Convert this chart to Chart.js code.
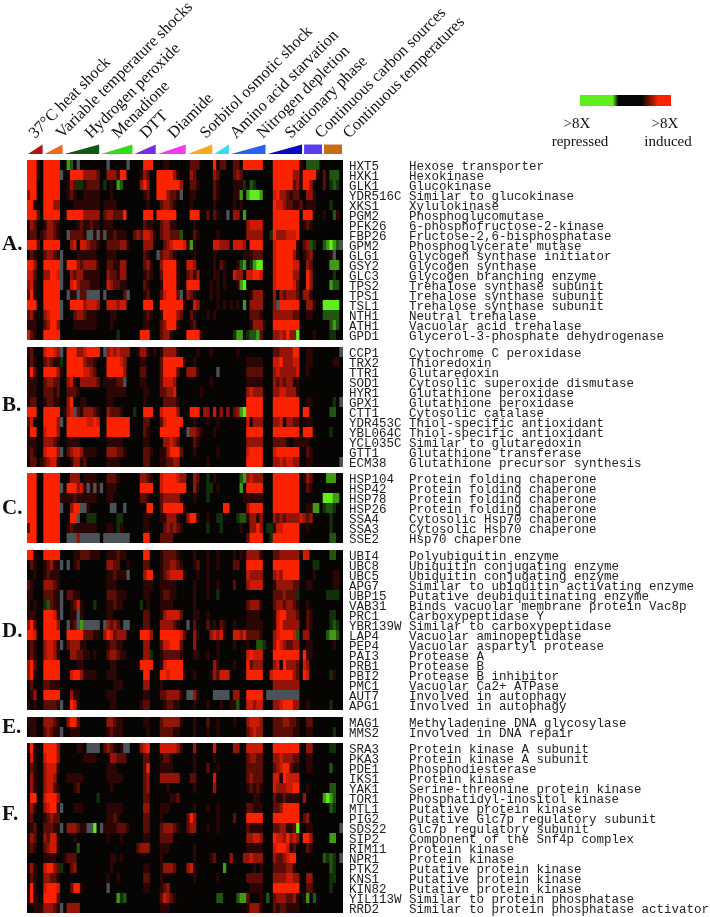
<!DOCTYPE html>
<html>
<head>
<meta charset="utf-8">
<title>Stress response heatmap</title>
<script src="https://cdn.jsdelivr.net/npm/chart.js@4"></script>
<style>
  body { margin: 0; background: #fff; }
  canvas { display: block; filter: blur(0.4px); }
</style>
</head>
<body>
<canvas id="heatmap" width="710" height="917"></canvas>
<script>
// conditions, left to right, with how many array columns each covers
const conditions = ["37°C heat shock", "Variable temperature shocks", "Hydrogen peroxide", "Menadione", "DTT", "Diamide",
    "Sorbitol osmotic shock", "Amino acid starvation", "Nitrogen depletion", "Stationary phase", "Continuous carbon sources", "Continuous temperatures"];
const conditionCols = [5, 6, 11, 10, 7, 9, 8, 5, 11, 11, 6, 6];
const conditionColors = ["#b01018", "#ee6a1e", "#0f5a12", "#33dd18", "#7a2ae0", "#f23cf0", "#f9a81a", "#35dcf2", "#2a62f0", "#0808c8", "#5a3cf0", "#c86c10"];
const conditionIsRamp = [true, true, true, true, true, true, true, true, true, true, false, false];

const genesA = ["HXT5", "HXK1", "GLK1", "YDR516C", "XKS1", "PGM2", "PFK26", "FBP26", "GPM2", "GLG1", "GSY2", "GLC3", "TPS2", "TPS1", "TSL1", "NTH1", "ATH1", "GPD1"];
const rolesA = ["Hexose transporter", "Hexokinase", "Glucokinase", "Similar to glucokinase", "Xylulokinase", "Phosphoglucomutase", "6-phosphofructose-2-kinase", "Fructose-2,6-bisphosphatase", "Phosphoglycerate mutase", "Glycogen synthase initiator", "Glycogen synthase", "Glycogen branching enzyme", "Trehalose synthase subunit", "Trehalose synthase subunit", "Trehalose synthase subunit", "Neutral trehalase", "Vacuolar acid trehalase", "Glycerol-3-phosphate dehydrogenase"];
const genesB = ["CCP1", "TRX2", "TTR1", "SOD1", "HYR1", "GPX1", "CTT1", "YDR453C", "YBL064C", "YCL035C", "GTT1", "ECM38"];
const rolesB = ["Cytochrome C peroxidase", "Thioredoxin", "Glutaredoxin", "Cytosolic superoxide dismutase", "Glutathione peroxidase", "Glutathione peroxidase", "Cytosolic catalase", "Thiol-specific antioxidant", "Thiol-specific antioxidant", "Similar to glutaredoxin", "Glutathione transferase", "Glutathione precursor synthesis"];
const genesC = ["HSP104", "HSP42", "HSP78", "HSP26", "SSA4", "SSA3", "SSE2"];
const rolesC = ["Protein folding chaperone", "Protein folding chaperone", "Protein folding chaperone", "Protein folding chaperone", "Cytosolic Hsp70 chaperone", "Cytosolic Hsp70 chaperone", "Hsp70 chaperone"];
const genesD = ["UBI4", "UBC8", "UBC5", "APG7", "UBP15", "VAB31", "PRC1", "YBR139W", "LAP4", "PEP4", "PAI3", "PRB1", "PBI2", "PMC1", "AUT7", "APG1"];
const rolesD = ["Polyubiquitin enzyme", "Ubiquitin conjugating enzyme", "Ubiquitin conjugating enzyme", "Similar to ubiquitin activating enzyme", "Putative deubiquitinating enzyme", "Binds vacuolar membrane protein Vac8p", "Carboxypeptidase Y", "Similar to carboxypeptidase", "Vacuolar aminopeptidase", "Vacuolar aspartyl protease", "Protease A", "Protease B", "Protease B inhibitor", "Vacuolar Ca2+ ATPase", "Involved in autophagy", "Involved in autophagy"];
const genesE = ["MAG1", "MMS2"];
const rolesE = ["Methyladenine DNA glycosylase", "Involved in DNA repair"];
const genesF = ["SRA3", "PKA3", "PDE1", "IKS1", "YAK1", "TOR1", "MTL1", "PIG2", "SDS22", "SIP2", "RIM11", "NPR1", "PTK2", "KNS1", "KIN82", "YIL113W", "RRD2"];
const rolesF = ["Protein kinase A subunit", "Protein kinase A subunit", "Phosphodiesterase", "Protein kinase", "Serine-threonine protein kinase", "Phosphatidyl-inositol kinase", "Putative protein kinase", "Putative Glc7p regulatory subunit", "Glc7p regulatory subunit", "Component of the Snf4p complex", "Protein kinase", "Protein kinase", "Putative protein kinase", "Putative protein kinase", "Putative protein kinase", "Similar to protein phosphatase", "Similar to protein phosphatase activator"];

// one string per gene, one letter per array column (spaces only to help counting)
// 0-5 = induced, dark to bright. a-d = repressed, dark to bright. x = no data
const cellsA = [
    "5551055555 00cb0x0000 0000x00000 x000055500 0110000002 2200005022 0022055555 5000555555 5510bbbb00 00000",
    "5551055555 x005555333 3200333155 0000132005 5555310003 2000003200 0023200000 0000555555 3315555102 0bbb0",
    "5550055555 00132aa122 220a010cb0 0000353005 5555553002 2100002100 00111a0ba0 0000555555 2315530002 0aba0",
    "3550055555 0012100111 1100010000 0000012005 553221x001 1000002100 0011c0cddd c000453321 2200331000 00000",
    "5510055533 0000111111 1101111000 0000001000 2332100001 0000001000 0010100000 0000544322 1120111000 0a000",
    "5552055555 0055555333 3302332225 0000055505 5555500005 5500202100 x0330c0000 0000555555 5505550001 00b10",
    "1320013321 0000012112 1101110000 0000021100 2331100000 1000000000 0000003444 4000555555 5501210000 00000",
    "1220123321 00x22221xx 1x1x112111 0023244310 233222b000 2100000100 0000003333 300a533344 4500000000 00000",
    "5552055555 0003404432 2100222233 1000033300 023455541c 1000004433 3044430555 5000455555 51023ba00b cdcbx",
    "0210023321 x000011111 1000111000 000002100x 2332100000 1000001000 0000011122 2000455555 3101230000 01x00",
    "5530055555 x055532333 3100221133 0000023100 3555510044 3000001021 0001bc0acd d000455555 4400320000 0ccc0",
    "4420033554 x003233111 1100322133 0000012100 2555510023 1300001101 0043304455 4000455555 3300530000 00a00",
    "3410055555 x004532221 1100432211 0000021000 1555510055 5500010101 0001cd0000 0000455555 4200530000 0cbb0",
    "2510055555 00x11x22xx xx0x000002 x000012000 245552x032 1000010100 0000000133 3000303233 3203310000 00000",
    "5550055555 x005555344 4300444344 0000055500 5555555100 4300000101 01010c0333 30003x5555 550033100d dddd0",
    "2310034555 x000233211 1000011000 0000012100 1555532002 1000101000 0000000222 1000333333 220011000b bbbb0",
    "1110023553 0000111111 1000010000 0000011000 2355510001 2000000000 0000000133 3100555555 5500000000 0bcb0",
    "4210055555 0000000000 0000000a00 0000555000 2331000055 5510000000 00acc0abbc 2000334353 3d00001000 0aa00"
];
const cellsB = [
    "1200045543 x055533455 550x343433 3001331010 1333310000 0100010000 0001000000 0000223333 5500110000 0000x",
    "0210023211 a055555322 1000555543 0000110000 2555555100 1000000000 0000001111 1000445333 4400110000 00110",
    "1520055553 1055555443 2000555553 0000220000 2555520033 3100000x00 0000002222 2000343333 3400100000 00000",
    "1110023322 0034103333 320111122x 0000110000 2444300000 0000010000 0000001111 1000323233 1100000000 00000",
    "1110022212 0022210000 0000111111 0000011000 2233400000 0010000000 0000003433 3000334433 3100000000 00000",
    "1220012211 0035001100 0000110000 0000010000 0222210000 0000000000 0000005555 5000555555 5500110000 00a0x",
    "5550055555 0134x21333 2100322210 00a0055500 4555530005 5503304030 3023cd5555 5000555555 5505500000 0bb00",
    "2400055553 x055555544 5400555555 5000022000 2455555000 1000100100 0000004133 3000334033 2200110000 00000",
    "1550045553 0055555555 5500555555 5000021000 55555500x3 3210001000 0000005555 5000555555 5505550000 0a000",
    "1110033321 0011110000 0000111110 0000011000 0334320000 2100000000 0000003333 3000222210 1111100000 00000",
    "1210045553 x023443111 1000333221 0000022100 1135552000 1000000100 0000004555 5000455555 5500210000 00000",
    "0220123441 0001331200 0000111100 0000022000 1122330000 0000100000 0000005555 5000334344 3300110000 0000x"
];
const cellsC = [
    "5550055555 0003330111 1000222100 0000332100 4555543300 3200a01000 0000bc3433 3000555555 5501320000 ccc00",
    "5550055555 x0555341x1 x1x0111000 0000555500 4555555500 3100aa0100 0000c05555 5000555555 5500210000 00000",
    "5550055555 1111211111 1000110000 0000221000 2333331000 1000a00000 0000011111 1000555555 550000000d ddcc0",
    "5550055555 x00355xx10 00000xx00x 0000005500 2555555100 0000000005 5000003555 5000555555 550011cc0a bba00",
    "5550055555 00055x00aa a000000aa0 0000011000 1133310035 5100100aa0 000abb1331 3000323233 3343230000 0a000",
    "2550055555 0012111111 1000110a10 0000011000 0232321000 0000a000a0 0000100335 30aa144555 5500100000 0a000",
    "5550055555 00xxx3xxxx xx0xxxxxxx x000055000 2222000000 0000000000 0000002555 500a555555 5500000000 0bb00"
];
const cellsD = [
    "5510055555 0000112221 1100111211 0000055000 1222210000 1000100100 0010103333 1000223333 3304400000 0bb00",
    "0210012311 x0x0120000 0000332200 1000022000 1223321000 1200100100 0022005555 5000555555 550000aa00 00000",
    "0010012111 0000000000 0000112111 x000035500 1234444100 0100100000 0000004333 3000343555 5500001000 00110",
    "2100033321 0000000000 0000111000 0000011100 1111100000 1000100100 0020003444 4000133333 2200110000 00110",
    "1100022211 x022110000 0000222111 0000011000 1221100000 1000100a00 0000000000 0000222322 2a00000000 aaaa0",
    "10100ab211 x001241000 a000112110 0000a01000 1111000000 1000000000 0000002333 1000233233 2100100000 00000",
    "1110055541 x0011x1000 0000110000 0000022000 1344442000 1100100000 0000001111 0000145533 3200210000 0aa00",
    "3520055553 00x12xcxxx xx0x32320x x000022000 33332100x0 2000201021 0010001111 1000145333 3300210000 0aba0",
    "5540055555 0055555222 1103542333 0000555300 5555554200 3100034341 0044342222 1000345555 4b03300000 bccb0",
    "1210034431 x023331100 0000122110 0000033000 2445552000 3000000100 001000100b ba00354322 3300110000 00100",
    "1210034431 0003322110 1000233211 0000033a00 1222221000 1100100100 0000004544 4000555555 5505110000 00000",
    "3520055555 0000011000 0000011000 0000555500 1455555000 0000003100 0010005233 3000340533 3204300000 00000",
    "3510055555 0004553111 1000111000 0000055000 5545555100 1000013244 4000005555 5004555555 3205400000 0a100",
    "0200022111 0000000000 0000001110 0000033000 1000000000 0000000000 0000000000 0000333333 3300000000 00000",
    "0130055555 0003110000 0000111000 0000011000 22333310xx 310000xxxx x033005555 50xxxxxxxx xx00000000 00000",
    "1010022221 x005410000 0000011000 0000122000 0122110000 1000100010 011b004434 4000334555 3300100000 0a000"
];
const cellsE = [
    "1110033321 0035520000 0000332110 0000011000 2333331000 1000200100 0010003444 3000222332 2100220000 00000",
    "0110023211 x001110000 0000121110 0000001000 2222110000 1000100100 0000002343 3000222222 1100110000 00a00"
];
const cellsF = [
    "1510055553 0000011 0xx xx02321 01x x000345000 4444431000 3000004000 0033004444 4000555555 5500330000 0aa00",
    "0410045553 0000000111 1000033222 0000022000 1221000000 1000001000 0000002332 2000334333 2200110000 00000",
    "0210034441 0000000000 0000111000 0000025000 1111000000 1000200100 0000002222 2000234552 1100110000 0b000",
    "0310034430 0011111000 0000111110 0000023000 3333330002 2000004000 0000002322 2000440544 4400000000 00000",
    "0310034421 0000120000 0000010000 0000023000 0010000000 1000003000 0000001212 1000433344 5500100000 0bb00",
    "0550045553 0000000000 0a00000000 0000022000 0001120000 0000000000 0000000011 0000211211 110300000c dcb00",
    "1310034551 x000111000 0000111110 0000033000 1110000000 1000100100 0000002211 1000223555 5500000000 0ba00",
    "1200012322 0000000000 0000112100 0000022000 1000000025 3000000100 0020005555 5000555555 5502300000 00000",
    "0120022211 x0333211xx d0x1111222 1000022000 2333210023 3000100100 0000002111 1000223311 2d00110000 0000x",
    "1320032441 0000100000 0000100010 0000011000 2222000000 0000000000 0000003344 3000544353 4305530000 0cc00",
    "1210023441 00000b0000 0000000000 0002333000 1110000000 1000000000 0000001111 1000455541 2000210000 00000",
    "0000011110 0122200000 0000011010 0000000000 1000000000 1000012000 0300033433 3000322345 500000000b aba0x",
    "1310045532 a002300000 0000010000 0000011000 1333200034 100000000c 0000000010 1000222233 1000000000 0ba00",
    "0210033221 0000000000 0000100100 0000022000 1000000000 1000000100 0000002222 2000333344 3300330000 0aa00",
    "1510045554 0002551000 0000x00000 0000011000 1230000000 0000000000 0000000111 1000555555 5500220000 0a000",
    "1510055552 0000000000 0000000cab 0000000000 2432100000 0000000bb0 000bcc2000 10b0233322 3101c0b000 00000",
    "0011133321 x033330000 0000000000 0000000000 1110000000 0000000000 0000001333 1000212211 1100000000 00000"
];

const blockNames = ["A.", "B.", "C.", "D.", "E.", "F."];
const blockNamePos = [8.5, 24.6, 34.9, 47.2, 56.8, 65.5];
const blockGaps = [0, 0.7, 0.6, 0.7, 0.7, 0.6];

const redRamp = ["#070404", "#2b0604", "#5a0e06", "#941507", "#cc1a04", "#fb2200"];
const greenRamp = ["#070404", "#12300a", "#225510", "#3f9a14", "#5fee1c"];
const missingColor = "#4b5258";
const columnCount = conditionCols.reduce((a, b) => a + b, 0);

function parseRow(str) {
    const clean = str.replace(/\s/g, "").padEnd(columnCount, "0").slice(0, columnCount);
    return clean.split("").map(ch => {
        if (ch === "x") return null;
        if (ch >= "a" && ch <= "d") return -(ch.charCodeAt(0) - 96);
        return Number(ch);
    });
}

function cellColor(v) {
    if (v === null) return missingColor;
    return v < 0 ? greenRamp[-v] : redRamp[v];
}

const blocks = [
    { genes: genesA, roles: rolesA, cells: cellsA },
    { genes: genesB, roles: rolesB, cells: cellsB },
    { genes: genesC, roles: rolesC, cells: cellsC },
    { genes: genesD, roles: rolesD, cells: cellsD },
    { genes: genesE, roles: rolesE, cells: cellsE },
    { genes: genesF, roles: rolesF, cells: cellsF }
];

const columnLabels = Array.from({ length: columnCount }, (_, i) => i);
const datasets = [];
const tickRows = [];
const tickLabels = [];
const blockSpans = [];
let rowTop = 0;

blocks.forEach((block, b) => {
    rowTop += blockGaps[b];
    const spanStart = rowTop;
    block.cells.forEach((row, r) => {
        const values = parseRow(row);
        datasets.push({
            label: block.genes[r],
            data: values.map(() => [rowTop, rowTop + 1]),
            backgroundColor: values.map(cellColor),
            borderWidth: 0,
            barPercentage: 1.2,
            categoryPercentage: 1,
            grouped: false
        });
        // the typed labels sit a little under the centre of their row
        tickRows.push(rowTop + 0.7);
        tickLabels.push(block.genes[r].padEnd(8) + block.roles[r]);
        rowTop += 1;
    });
    blockSpans.push([spanStart, rowTop]);
});

// black behind each block so the column edges do not show white
const blockBacking = {
    id: "blockBacking",
    beforeDatasetsDraw(chart) {
        const { ctx, chartArea, scales: { y } } = chart;
        ctx.save();
        ctx.fillStyle = redRamp[0];
        blockSpans.forEach(([a, b]) => {
            const top = y.getPixelForValue(a);
            ctx.fillRect(chartArea.left, top, chartArea.right - chartArea.left, y.getPixelForValue(b) - top);
        });
        ctx.restore();
    }
};

// slanted condition labels and wedges over the columns, block letters, colour key
const decorations = {
    id: "decorations",
    afterDraw(chart) {
        const { ctx, scales: { x, y } } = chart;
        const colWidth = x.getPixelForValue(1) - x.getPixelForValue(0);
        const labelStart = [35, 62, 91, 118, 146, 174, 206, 236, 263, 291, 321, 349];
        const wedgeTop = 144.5, wedgeBottom = 154;
        let col = 0;
        ctx.save();
        conditions.forEach((name, i) => {
            const left = x.getPixelForValue(col) - colWidth / 2 + 1;
            const right = x.getPixelForValue(col + conditionCols[i] - 1) + colWidth / 2 - 1;
            ctx.fillStyle = conditionColors[i];
            ctx.beginPath();
            ctx.moveTo(left, wedgeBottom);
            ctx.lineTo(right, wedgeBottom);
            ctx.lineTo(right, wedgeTop);
            if (!conditionIsRamp[i]) ctx.lineTo(left, wedgeTop);
            ctx.closePath();
            ctx.fill();

            ctx.save();
            ctx.translate(labelStart[i], 139);
            ctx.rotate(-Math.PI / 4);
            ctx.fillStyle = "#111";
            ctx.font = '16.4px "Liberation Serif"';
            ctx.textAlign = "left";
            ctx.textBaseline = "alphabetic";
            ctx.fillText(name, 0, 0);
            ctx.restore();
            col += conditionCols[i];
        });

        ctx.fillStyle = "#111";
        ctx.font = 'bold 21px "Liberation Serif"';
        ctx.textAlign = "left";
        ctx.textBaseline = "middle";
        blockNames.forEach((name, i) => ctx.fillText(name, 2, y.getPixelForValue(blockNamePos[i])));

        const grad = ctx.createLinearGradient(580, 0, 671, 0);
        grad.addColorStop(0, "#5fee1c");
        grad.addColorStop(0.36, "#5fee1c");
        grad.addColorStop(0.42, "#060606");
        grad.addColorStop(0.68, "#060606");
        grad.addColorStop(0.86, "#fb2200");
        grad.addColorStop(1, "#fb2200");
        ctx.fillStyle = grad;
        ctx.fillRect(580, 95, 91, 11);

        ctx.fillStyle = "#111";
        ctx.font = '15px "Liberation Serif"';
        ctx.textAlign = "center";
        ctx.textBaseline = "middle";
        ctx.fillText(">8X", 577, 124);
        ctx.fillText("repressed", 580, 142);
        ctx.fillText(">8X", 665, 124);
        ctx.fillText("induced", 668, 142);
        ctx.restore();
    }
};

new Chart(document.getElementById("heatmap"), {
    type: "bar",
    data: { labels: columnLabels, datasets: datasets },
    plugins: [blockBacking, decorations],
    options: {
        responsive: false,
        animation: false,
        events: [],
        layout: { padding: { left: 27, top: 160, bottom: 4, right: 0 } },
        plugins: { legend: { display: false }, tooltip: { enabled: false } },
        scales: {
            x: { display: false, stacked: false },
            y: {
                position: "right",
                reverse: true,
                min: 0,
                max: rowTop,
                grid: { display: false, drawTicks: false },
                border: { display: false },
                afterBuildTicks: scale => { scale.ticks = tickRows.map(v => ({ value: v })); },
                afterFit: scale => { scale.width = 367; scale.paddingTop = 0; scale.paddingBottom = 0; },
                ticks: {
                    autoSkip: false,
                    padding: 6,
                    color: "#222",
                    font: { family: "Liberation Mono", size: 12.5 },
                    callback: (value, index) => tickLabels[index]
                }
            }
        }
    }
});
</script>
</body>
</html>
